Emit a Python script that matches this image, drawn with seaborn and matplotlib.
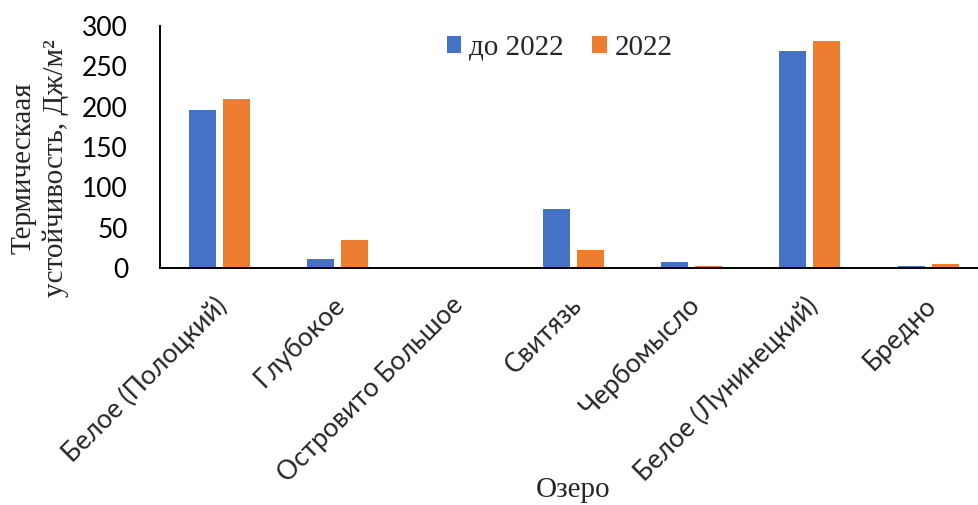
import numpy as np
import pandas as pd
import matplotlib
matplotlib.use("Agg")
import matplotlib.pyplot as plt
import matplotlib.transforms as mtransforms
from matplotlib.patches import Patch
import seaborn as sns

# ---- data ----
lakes = ["Белое (Полоцкий)", "Глубокое", "Островито Большое", "Свитязь",
         "Чербомысло", "Белое (Лунинецкий)", "Бредно"]
before_2022 = [196, 11, 0, 73, 7, 269, 2]
in_2022 = [210, 35, 0, 22, 2.5, 281, 4.5]
series_names = ["до 2022", "2022"]
y_ticks = [0, 50, 100, 150, 200, 250, 300]
x_label = "Озеро"
y_label = "Термическаая\nустойчивость, Дж/м²"
palette = ["#4472C4", "#ED7D31"]

df = pd.DataFrame({
    "lake": lakes * 2,
    "value": before_2022 + in_2022,
    "series": [series_names[0]] * len(lakes) + [series_names[1]] * len(lakes),
})

sns.set_theme(style="white")
plt.rcParams["font.family"] = ["Lato", "DejaVu Sans"]

fig = plt.figure(figsize=(9.79, 5.05), dpi=100)
ax = fig.add_axes([0.1634, 0.4693, 0.845, 0.4792])

sns.barplot(data=df, x="lake", y="value", hue="series", order=lakes,
            hue_order=series_names, palette=palette, width=0.576, gap=0.206,
            legend=False, ax=ax, linewidth=0, saturation=1, errorbar=None)

ax.set_xlim(-0.5, len(lakes) - 0.5)
ax.set_ylim(0, 300)
ax.set_yticks(y_ticks)
ax.set_yticklabels([str(v) for v in y_ticks], fontsize=19, family=["Lato", "DejaVu Sans"])
ax.tick_params(axis="y", direction="out", length=7, width=1.3, pad=16, colors="black")

# major ticks at category boundaries, labels on minor ticks at centres
ax.set_xticks(np.arange(-0.5, len(lakes), 1.0))
ax.set_xticklabels([])
ax.set_xticks(np.arange(len(lakes)), minor=True)
ax.set_xticklabels(lakes, minor=True, rotation=45, ha="right", va="center",
                   rotation_mode="anchor", fontsize=19, family=["Lato", "DejaVu Sans"])
ax.tick_params(axis="x", which="major", direction="out", length=10, width=1.3, color="#444444")
ax.tick_params(axis="x", which="minor", length=0, pad=24)
offset = mtransforms.ScaledTranslation(4 / 100, 0, fig.dpi_scale_trans)
for lbl in ax.get_xticklabels(minor=True):
    lbl.set_transform(lbl.get_transform() + offset)

ax.set_xlabel("")
ax.set_ylabel("")
for s in ["top", "right"]:
    ax.spines[s].set_visible(False)
for s in ["left", "bottom"]:
    ax.spines[s].set_color("black")
    ax.spines[s].set_linewidth(1.4)
ax.grid(False)

serif = ["Liberation Serif", "DejaVu Serif"]
fig.text(573 / 979, 1 - 490 / 505, x_label, ha="center", va="center",
         fontsize=21, family=serif)
fig.text(40 / 979, 1 - 168 / 505, y_label, rotation=90, ha="center", va="center",
         ma="center", fontsize=21, family=serif, linespacing=1.3)

handles = [Patch(facecolor=c, edgecolor="none") for c in palette]
fig.legend(handles, series_names, loc="center", bbox_to_anchor=(0.5715, 0.905),
           ncol=2, frameon=False, prop={"family": serif, "size": 21},
           handlelength=0.5, handleheight=0.5, handletextpad=0.25,
           columnspacing=1.0, borderpad=0)

fig.savefig("out.png", dpi=100)
